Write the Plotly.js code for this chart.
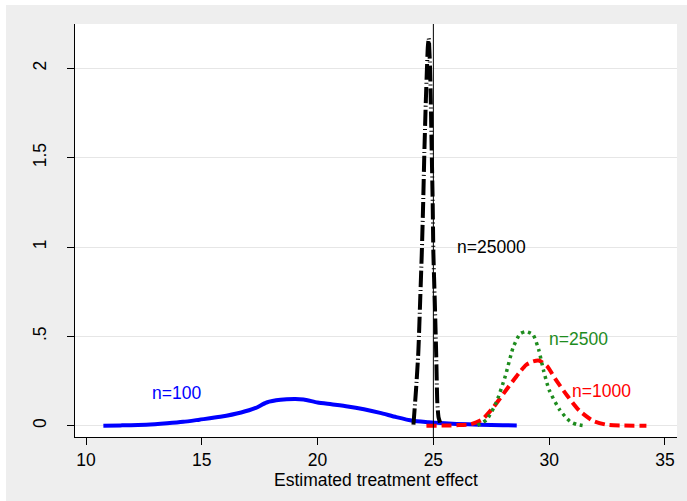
<!DOCTYPE html>
<html>
<head>
<meta charset="utf-8">
<script src="https://cdn.plot.ly/plotly-3.0.1.min.js"></script>
<style>
html,body{margin:0;padding:0;background:#ffffff;}
#wrap{position:absolute;left:6px;top:5px;width:681px;height:496px;background:#eeeeee;}
#plot{width:681px;height:496px;}
</style>
</head>
<body>
<div id="wrap"><div id="plot"></div></div>
<script>
// n=100 (blue, solid)
const blueX = [10.75, 11.5, 12.6, 13.5, 14.2, 14.9, 15.8, 16.7, 17.3, 17.8, 18.4, 19.0, 19.4, 20.0, 20.6, 21.3, 22.0, 22.7, 23.4, 24.1, 24.8, 25.3, 26.0, 27.0, 28.0, 28.6];
const blueY = [0.0, 0.002, 0.006, 0.014, 0.022, 0.034, 0.05, 0.074, 0.098, 0.13, 0.145, 0.149, 0.147, 0.13, 0.12, 0.108, 0.092, 0.072, 0.048, 0.028, 0.02, 0.015, 0.01, 0.006, 0.003, 0.002];
// n=1000 (red, dashed)
const redX = [24.7, 25.5, 26.0, 26.6, 27.1, 27.6, 28.2, 28.7, 29.0, 29.3, 29.55, 29.9, 30.3, 30.8, 31.3, 31.9, 32.5, 33.2, 34.2];
const redY = [0.0, 0.001, 0.003, 0.008, 0.034, 0.105, 0.21, 0.295, 0.34, 0.36, 0.365, 0.335, 0.255, 0.165, 0.085, 0.027, 0.005, 0.001, 0.0];
// n=2500 (green, dotted)
const greenX = [26.9, 27.3, 27.7, 28.1, 28.45, 28.75, 29.0, 29.3, 29.55, 29.75, 30.0, 30.45, 30.9, 31.2, 31.5];
const greenY = [0.002, 0.034, 0.125, 0.275, 0.44, 0.515, 0.527, 0.51, 0.425, 0.313, 0.2, 0.09, 0.024, 0.007, 0.0];
// n=25000 (black, dash-dot)
const blackX = [24.14, 24.25, 24.35, 24.43, 24.5, 24.56, 24.61, 24.67, 24.72, 24.76, 24.8, 24.86, 24.93, 24.97, 25.0, 25.06, 25.12, 25.17, 25.22, 25.29];
const blackY = [0.006, 0.2, 0.41, 0.7, 0.967, 1.25, 1.526, 1.8, 1.99, 2.12, 2.168, 1.99, 1.526, 1.25, 0.967, 0.7, 0.41, 0.13, 0.05, 0.017];

const xTicks = [10, 15, 20, 25, 30, 35];
const xTickText = ["10", "15", "20", "25", "30", "35"];
const yTicks = [0, 0.5, 1, 1.5, 2];
const yTickText = ["0", ".5", "1", "1.5", "2"];
const trueEffect = 25;

const labels = [
  {text: "n=100", x: 13.9, y: 0.186, color: "#0000ff"},
  {text: "n=25000", x: 27.49, y: 1.0, color: "#000000"},
  {text: "n=2500", x: 31.25, y: 0.485, color: "#1e8c1e"},
  {text: "n=1000", x: 32.27, y: 0.192, color: "#ff0000"}
];

const FONT = "Liberation Sans, Arial, sans-serif";
const FS = 17.5;

const traces = [
  {x: blueX, y: blueY, mode: "lines", line: {color: "#0000ff", width: 4, shape: "spline", smoothing: 0.6}},
  {x: redX, y: redY, mode: "lines", line: {color: "#ff0000", width: 4, dash: "10px,5px", shape: "spline", smoothing: 0.6}},
  {x: greenX, y: greenY, mode: "lines", line: {color: "#1e8c1e", width: 3.5, dash: "3px,4px", shape: "spline", smoothing: 0.6}},
  {x: blackX, y: blackY, mode: "lines", line: {color: "#000000", width: 4, dash: "16px,3px,1px,3px", shape: "spline", smoothing: 0.5}}
];

const layout = {
  width: 681, height: 496,
  margin: {l: 69, r: 10, t: 19, b: 64},
  paper_bgcolor: "#eeeeee",
  plot_bgcolor: "#ffffff",
  showlegend: false,
  font: {family: FONT, size: FS, color: "#000000"},
  xaxis: {
    range: [9.525, 35.52],
    tickvals: xTicks, ticktext: xTickText,
    ticks: "outside", ticklen: 7, tickwidth: 1, tickcolor: "#000000",
    showline: true, linecolor: "#000000", linewidth: 1,
    showgrid: false, zeroline: false,
    tickfont: {family: FONT, size: FS, color: "#000000"},
    title: {text: "Estimated treatment effect", font: {family: FONT, size: FS, color: "#000000"}, standoff: 1}
  },
  yaxis: {
    range: [-0.063, 2.248],
    tickvals: yTicks, ticktext: yTickText,
    tickangle: -90,
    ticks: "outside", ticklen: 7, tickwidth: 1, tickcolor: "#000000",
    ticklabelstandoff: 14,
    showline: true, linecolor: "#000000", linewidth: 1,
    showgrid: true, gridcolor: "#e6e6e6", gridwidth: 1,
    zeroline: false,
    tickfont: {family: FONT, size: FS, color: "#000000"}
  },
  shapes: [
    {type: "line", xref: "x", yref: "paper", x0: trueEffect, x1: trueEffect, y0: 0, y1: 1, line: {color: "#000000", width: 1}, layer: "above"}
  ],
  annotations: labels.map(l => ({
    text: l.text, x: l.x, y: l.y, xref: "x", yref: "y", showarrow: false,
    font: {family: FONT, size: FS, color: l.color}
  }))
};

Plotly.newPlot("plot", traces, layout, {displayModeBar: false, staticPlot: true});
</script>
</body>
</html>
